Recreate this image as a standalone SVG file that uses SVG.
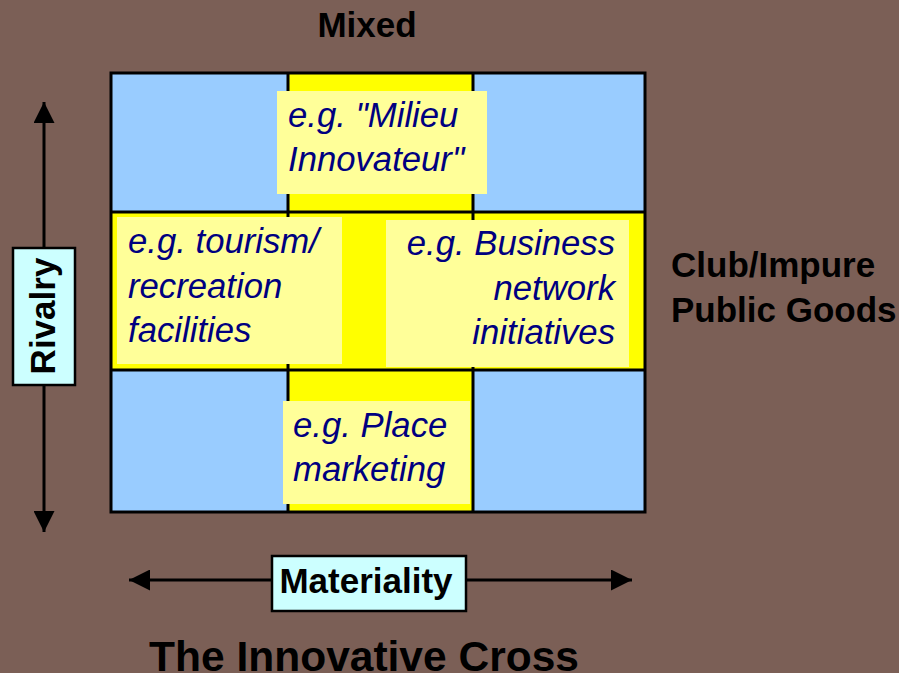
<svg xmlns="http://www.w3.org/2000/svg" width="899" height="673" viewBox="0 0 899 673">
<defs>
<style>
.bg{fill:#7B5F56}
.blue{fill:#99CCFF}
.yel{fill:#FFFF00}
.grid{fill:none;stroke:#000;stroke-width:3}
.note{fill:#FFFF99}
.ex{font-family:"Liberation Sans",Arial,sans-serif;font-style:italic;font-size:34.7px;fill:#000080}
.lbl{font-family:"Liberation Sans",Arial,sans-serif;font-weight:bold;font-size:35px;fill:#000}
.axbox{fill:#CCFFFF;stroke:#000;stroke-width:2.5}
.ax{stroke:#000;stroke-width:3;fill:none}
</style>
<marker id="ah" viewBox="0 0 10 10" refX="10" refY="5" markerWidth="7" markerHeight="7" markerUnits="strokeWidth" orient="auto-start-reverse">
<path d="M0,0 L10,5 L0,10 z" fill="#000"/>
</marker>
</defs>
<rect class="bg" x="0" y="0" width="899" height="673"/>

<g id="grid">
<rect class="blue" x="111" y="73" width="534" height="439"/>
<rect class="yel" x="288" y="73" width="185" height="439"/>
<rect class="yel" x="111" y="212" width="534" height="158"/>
<rect class="grid" x="111" y="73" width="534" height="439"/>
<line class="grid" x1="288" y1="73" x2="288" y2="512"/>
<line class="grid" x1="473" y1="73" x2="473" y2="512"/>
<line class="grid" x1="111" y1="212" x2="645" y2="212"/>
<line class="grid" x1="111" y1="370" x2="645" y2="370"/>
</g>

<g id="milieu">
<rect class="note" x="277" y="91" width="210" height="103"/>
<text class="ex" x="288" y="127">e.g. "Milieu</text>
<text class="ex" x="288" y="171">Innovateur"</text>
</g>

<g id="tourism">
<rect class="note" x="117" y="217" width="225" height="147"/>
<text class="ex" x="128" y="253">e.g. tourism/</text>
<text class="ex" x="128" y="298">recreation</text>
<text class="ex" x="128" y="342">facilities</text>
</g>

<g id="business">
<rect class="note" x="386" y="220" width="243" height="147"/>
<text class="ex" x="615" y="255" text-anchor="end">e.g. Business</text>
<text class="ex" x="615" y="300" text-anchor="end">network</text>
<text class="ex" x="615" y="344" text-anchor="end">initiatives</text>
</g>

<g id="place">
<rect class="note" x="283" y="401" width="187" height="103"/>
<text class="ex" x="293" y="437">e.g. Place</text>
<text class="ex" x="293" y="481">marketing</text>
</g>

<g id="mixed">
<text class="lbl" x="367" y="37" text-anchor="middle">Mixed</text>
</g>

<g id="club">
<text class="lbl" x="671" y="277">Club/Impure</text>
<text class="lbl" x="671" y="322">Public Goods</text>
</g>

<g id="connectors">
<line class="ax" x1="44" y1="247" x2="44" y2="102" marker-end="url(#ah)"/>
<line class="ax" x1="44" y1="386" x2="44" y2="532" marker-end="url(#ah)"/>
<line class="ax" x1="271" y1="580" x2="129" y2="580" marker-end="url(#ah)"/>
<line class="ax" x1="466" y1="580" x2="632" y2="580" marker-end="url(#ah)"/>
</g>

<g id="rivalry">
<rect class="axbox" x="13" y="248" width="62" height="137"/>
<text class="lbl" transform="translate(55,316) rotate(-90)" text-anchor="middle">Rivalry</text>
</g>

<g id="materiality">
<rect class="axbox" x="272" y="556" width="194" height="55"/>
<text class="lbl" x="366" y="593" text-anchor="middle">Materiality</text>
</g>

<g id="title">
<text class="lbl" x="364" y="671" text-anchor="middle" style="font-size:42.5px">The Innovative Cross</text>
</g>
</svg>
